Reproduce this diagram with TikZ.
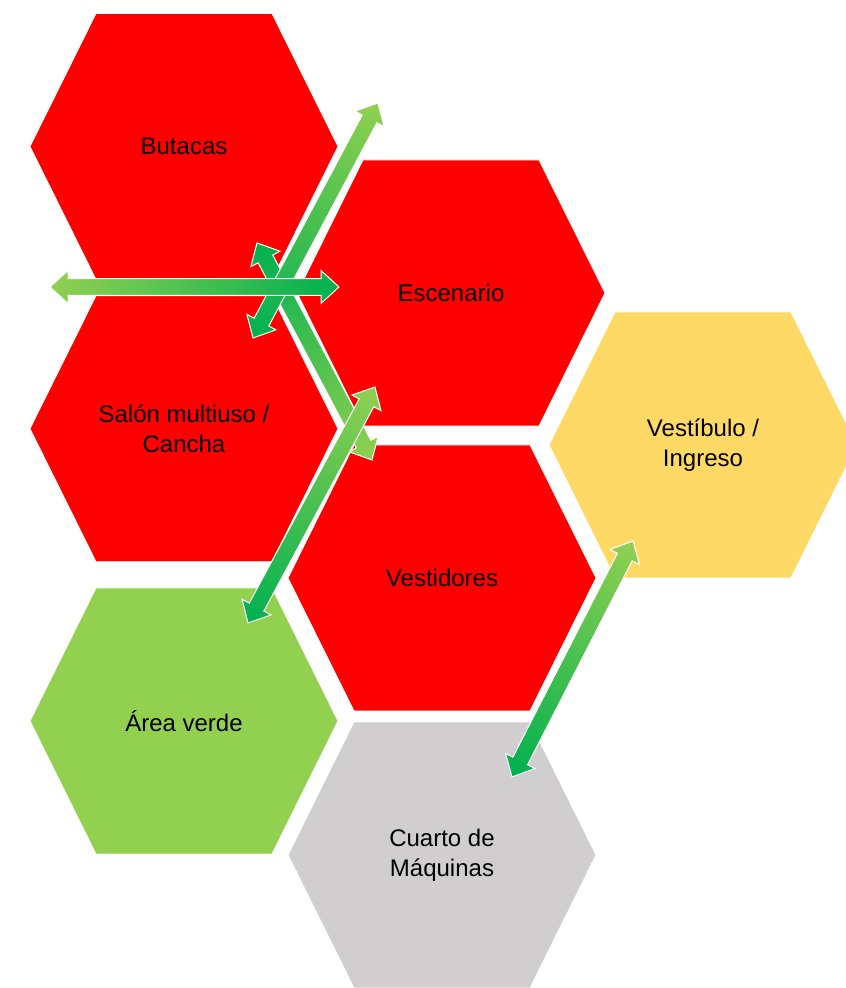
\documentclass[tikz,border=0pt]{standalone}
\usepackage{fontspec}
\setmainfont{Liberation Sans}
\usetikzlibrary{calc}

\definecolor{cellred}{HTML}{FF0000}
\definecolor{cellyellow}{HTML}{FFD966}
\definecolor{cellgreen}{HTML}{92D050}
\definecolor{cellgray}{HTML}{D0CECE}
\definecolor{arrowlight}{HTML}{92D050}
\definecolor{arrowdark}{HTML}{00B050}

\tikzset{
  celltext/.style={align=center, text=black, inner sep=0pt,
    font=\fontsize{24}{30}\selectfont},
  cellshape/.style={draw=white, line width=0.8pt},
  arrowbody/.style={draw=white, line width=1pt, line join=miter},
}

% hexagonal cell: name, centre x, centre y, fill colour, label
\newcommand\hexcell[5]{%
  \path[cellshape, fill=#4]
    (#2-154,#3) -- (#2-88,#3+133) -- (#2+88,#3+133) --
    (#2+154,#3) -- (#2+88,#3-133) -- (#2-88,#3-133) -- cycle;
  \node[celltext] (#1) at (#2,#3) {#5};
}

% double-headed block arrow between two named points,
% shaded from colour #3 at the first point to colour #4 at the second
\newcommand\blockarrow[4]{%
  \pgfpointdiff{\pgfpointanchor{#1}{center}}{\pgfpointanchor{#2}{center}}%
  \pgfgetlastxy{\barx}{\bary}%
  \pgfmathsetmacro\barang{atan2(\bary,\barx)}%
  \pgfmathsetmacro\barlen{veclen(\barx,\bary)}%
  \begin{scope}[transform canvas={shift={(#1)}, rotate=\barang}]
    \shade[arrowbody, left color=#3, right color=#4]
      (0,0) -- (18,16.5) -- (18,8.3) -- (\barlen-18,8.3) --
      (\barlen-18,16.5) -- (\barlen,0) -- (\barlen-18,-16.5) --
      (\barlen-18,-8.3) -- (18,-8.3) -- (18,-16.5) -- cycle;
  \end{scope}
}

\begin{document}
\begin{tikzpicture}[x=1pt,y=1pt]
  \useasboundingbox (0,0) rectangle (846,988);
  \fill[white] (0,0) rectangle (846,988);

  % cells
  \hexcell{butacas}{184}{841.5}{cellred}{Butacas}
  \hexcell{escenario}{451}{695}{cellred}{Escenario}
  \hexcell{salon}{184}{559.3}{cellred}{Salón multiuso /\\Cancha}
  \hexcell{vestibulo}{703}{543}{cellyellow}{Vestíbulo /\\Ingreso}
  \hexcell{vestidores}{442}{410}{cellred}{Vestidores}
  \hexcell{areaverde}{184}{267}{cellgreen}{Área verde}
  \hexcell{cuarto}{442}{133}{cellgray}{Cuarto de\\Máquinas}

  % arrow end points
  \coordinate (hL) at (50,701);
  \coordinate (hR) at (339,701);
  \coordinate (dAtop) at (378,885);
  \coordinate (dAbot) at (253,650);
  \coordinate (dBtop) at (257,745);
  \coordinate (dBbot) at (372,528);
  \coordinate (dCtop) at (375,601);
  \coordinate (dCbot) at (248,365);
  \coordinate (dDtop) at (633,447);
  \coordinate (dDbot) at (512,211);

  % connections
  \blockarrow{dBtop}{dBbot}{arrowdark}{arrowlight}
  \blockarrow{dAtop}{dAbot}{arrowlight}{arrowdark}
  \blockarrow{hL}{hR}{arrowlight}{arrowdark}
  \blockarrow{dCtop}{dCbot}{arrowlight}{arrowdark}
  \blockarrow{dDtop}{dDbot}{arrowlight}{arrowdark}
\end{tikzpicture}
\end{document}
